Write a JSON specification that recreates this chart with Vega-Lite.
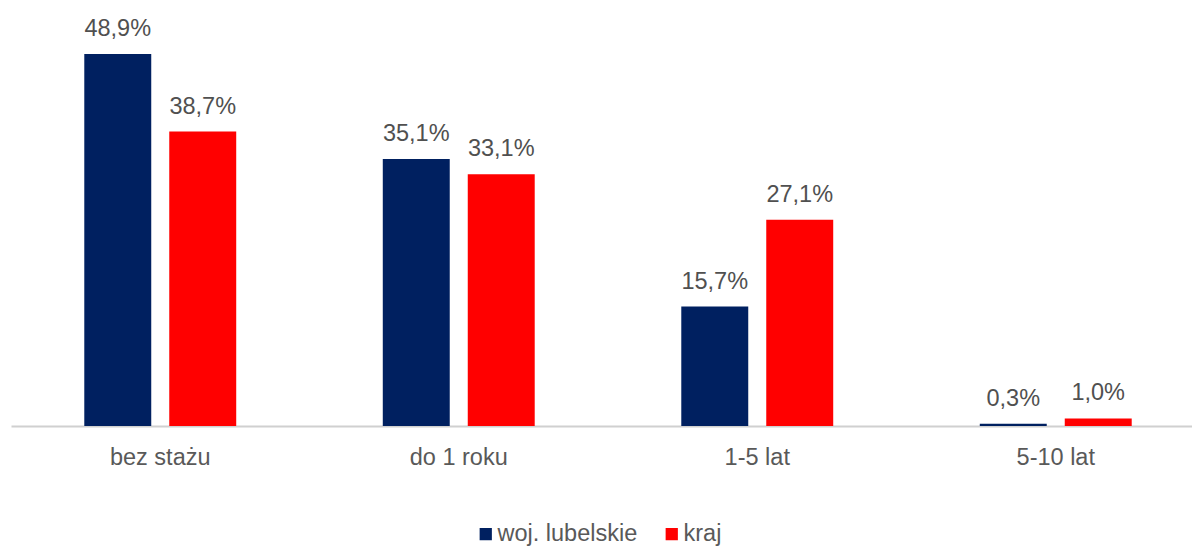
{
  "$schema": "https://vega.github.io/schema/vega-lite/v6.json",
  "autosize": {"type": "none"},
  "width": 1194,
  "height": 426,
  "padding": {"left": 11, "top": 0, "right": 0, "bottom": 120},
  "background": "white",
  "config": {
    "view": {"stroke": null},
    "font": "Liberation Sans",
    "locale": {"number": {"decimal": ",", "thousands": " ", "grouping": [3], "currency": ["", " zł"], "percent": "%"}}
  },
  "data": {
    "values": [
      {"staz": "bez stażu", "seria": "woj. lubelskie", "v": 0.489},
      {"staz": "bez stażu", "seria": "kraj", "v": 0.387},
      {"staz": "do 1 roku", "seria": "woj. lubelskie", "v": 0.351},
      {"staz": "do 1 roku", "seria": "kraj", "v": 0.331},
      {"staz": "1-5 lat", "seria": "woj. lubelskie", "v": 0.157},
      {"staz": "1-5 lat", "seria": "kraj", "v": 0.271},
      {"staz": "5-10 lat", "seria": "woj. lubelskie", "v": 0.003},
      {"staz": "5-10 lat", "seria": "kraj", "v": 0.010}
    ]
  },
  "encoding": {
    "x": {
      "field": "staz", "type": "nominal", "sort": null,
      "scale": {"paddingInner": 0.491, "paddingOuter": 0.2455},
      "axis": {
        "title": null, "labelAngle": 0, "labelFontSize": 23.5, "labelColor": "#595959",
        "labelPadding": 19, "ticks": false, "domainColor": "#D0D0D0", "domainWidth": 2,
        "labelFont": "Liberation Sans"
      }
    },
    "xOffset": {
      "field": "seria", "type": "nominal", "sort": ["woj. lubelskie", "kraj"],
      "scale": {"paddingInner": 0.212, "paddingOuter": 0}
    },
    "y": {
      "field": "v", "type": "quantitative",
      "scale": {"domain": [0, 0.56], "nice": false},
      "axis": null
    }
  },
  "layer": [
    {
      "mark": {"type": "bar"},
      "encoding": {
        "color": {
          "field": "seria", "type": "nominal",
          "scale": {"domain": ["woj. lubelskie", "kraj"], "range": ["#002060", "#FF0000"]},
          "legend": {
            "title": null, "orient": "none", "direction": "horizontal",
            "legendX": 463, "legendY": 522,
            "symbolType": "square", "symbolSize": 150, "symbolStrokeWidth": 0,
            "labelFontSize": 23.5, "labelColor": "#595959", "labelOffset": 0,
            "columnPadding": 22, "labelFont": "Liberation Sans"
          }
        }
      }
    },
    {
      "mark": {"type": "text", "baseline": "alphabetic", "dy": -18, "fontSize": 23.5, "color": "#505050", "font": "Liberation Sans"},
      "encoding": {
        "text": {"field": "v", "type": "quantitative", "format": ".1%"}
      }
    }
  ]
}
